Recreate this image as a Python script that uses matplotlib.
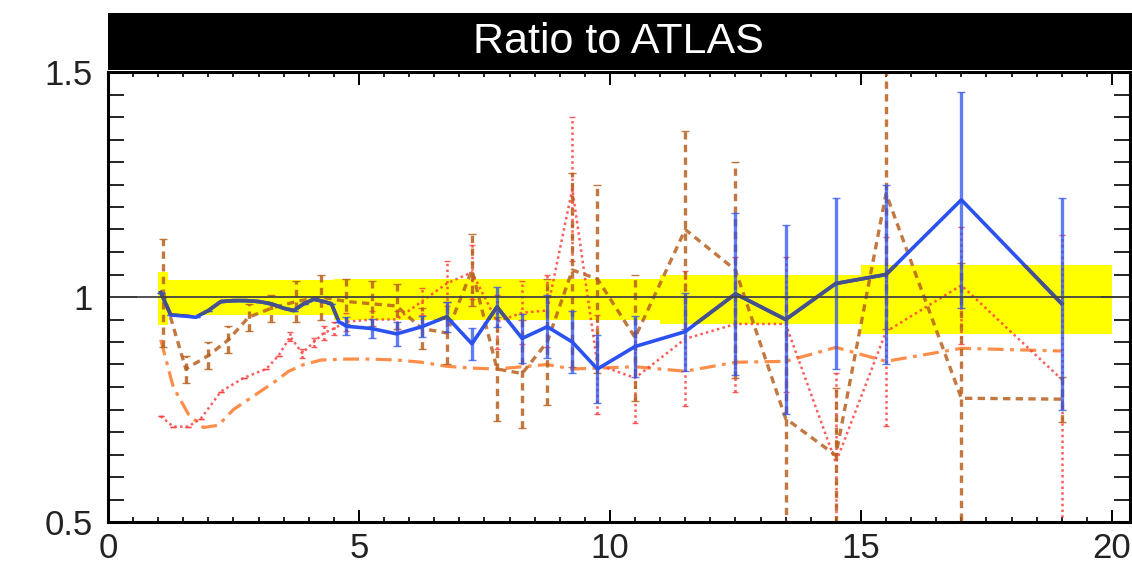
import matplotlib
matplotlib.use("Agg")
import matplotlib.pyplot as plt
from matplotlib.patches import Rectangle, Polygon
from matplotlib.ticker import MultipleLocator

plt.rcParams['font.family'] = ['Liberation Sans', 'DejaVu Sans']

# uncertainty band (step edges)
band_edges = [1.0, 1.2, 4.5, 11.0, 15.0, 20.0]
band_hi = [1.055, 1.038, 1.04, 1.048, 1.072]
band_lo = [0.938, 0.96, 0.948, 0.94, 0.918]

# blue (solid)
blue_x = [1.05, 1.25, 1.5, 1.75, 2.0, 2.25, 2.5, 2.75, 3.0, 3.25, 3.5, 3.7, 3.9, 4.1, 4.3, 4.45, 4.6,
          4.75, 5.25, 5.75, 6.25, 6.75, 7.25, 7.75, 8.25, 8.75, 9.25, 9.75, 10.5, 11.5, 12.5, 13.5,
          14.5, 15.5, 17.0, 19.0]
blue_y = [1.01, 0.96, 0.958, 0.955, 0.97, 0.99, 0.992, 0.992, 0.99, 0.985, 0.975, 0.97, 0.985, 0.995,
          0.99, 0.985, 0.945,
          0.935, 0.93, 0.918, 0.934, 0.956, 0.896, 0.978, 0.908, 0.934, 0.90, 0.84, 0.89, 0.923, 1.007,
          0.95, 1.03, 1.05, 1.216, 0.985]
blue_err = [0.0, 0.0, 0.0, 0.0, 0.0, 0.0, 0.0, 0.0, 0.0, 0.0, 0.0, 0.0, 0.0, 0.0, 0.0, 0.0, 0.0,
            0.02, 0.02, 0.027, 0.023, 0.033, 0.035, 0.045, 0.055, 0.07, 0.07, 0.076, 0.068, 0.087,
            0.18, 0.21, 0.19, 0.2, 0.24, 0.235]

# brown (dashed)
brown_x = [1.1, 1.55, 2.0, 2.4, 2.8, 3.25, 3.75, 4.25, 4.75, 5.25, 5.75, 6.25, 6.75, 7.25, 7.75,
           8.25, 8.75, 9.25, 9.75, 10.5, 11.5, 12.5, 13.5, 14.5, 15.5, 17.0, 19.0]
brown_y = [1.01, 0.84, 0.87, 0.905, 0.955, 0.975, 0.99, 1.0, 0.99, 0.985, 0.98, 0.93, 0.92, 1.06,
           0.84, 0.83, 0.90, 1.06, 1.04, 0.91, 1.15, 1.06, 0.73, 0.648, 1.23, 0.775, 0.773]
brown_err = [0.12, 0.03, 0.03, 0.03, 0.03, 0.03, 0.045, 0.05, 0.05, 0.05, 0.05, 0.045, 0.07, 0.08,
             0.115, 0.12, 0.14, 0.215, 0.21, 0.14, 0.22, 0.24, 0.27, 0.15, 0.3, 0.3, 0.05]

# red (dotted)
red_x = [1.05, 1.3, 1.6, 1.85, 2.25, 2.7, 3.15, 3.4, 3.63, 3.87, 4.1, 4.3, 4.5, 4.75, 5.25, 5.75,
         6.25, 6.75, 7.25, 7.75, 8.25, 8.75, 9.25, 9.75, 10.5, 11.5, 12.5, 13.5, 14.5, 15.5, 17.0, 19.0]
red_y = [0.735, 0.712, 0.712, 0.73, 0.79, 0.82, 0.84, 0.87, 0.912, 0.875, 0.9, 0.92, 0.93, 0.945,
         0.95, 0.95, 0.99, 1.03, 1.055, 0.945, 0.965, 0.97, 1.24, 0.85, 0.82, 0.907, 0.94, 0.94,
         0.632, 0.923, 1.026, 0.817]
red_err = [0.0, 0.0, 0.0, 0.0, 0.0, 0.0, 0.0, 0.0, 0.01, 0.01, 0.01, 0.015, 0.015, 0.02, 0.02, 0.02,
           0.03, 0.05, 0.06, 0.06, 0.07, 0.08, 0.16, 0.11, 0.1, 0.15, 0.15, 0.15, 0.2, 0.21, 0.13, 0.32]

# orange (dash-dot)
orange_x = [1.05, 1.3, 1.6, 1.9, 2.2, 2.5, 2.9, 3.3, 3.6, 3.9, 4.25, 4.75, 5.25, 5.75, 6.25, 6.75,
            7.25, 7.75, 8.25, 8.75, 9.25, 9.75, 10.5, 11.5, 12.5, 13.5, 14.5, 15.5, 17.0, 19.0]
orange_y = [0.905, 0.80, 0.74, 0.71, 0.715, 0.75, 0.78, 0.81, 0.835, 0.85, 0.86, 0.862, 0.862, 0.86,
            0.855, 0.846, 0.842, 0.84, 0.845, 0.85, 0.84, 0.842, 0.845, 0.835, 0.855, 0.857, 0.888,
            0.857, 0.886, 0.88]

title = "Ratio to ATLAS"

fig = plt.figure(figsize=(11.32, 5.74), dpi=100)
ax = fig.add_axes([108 / 1132, 1 - 522 / 574, 1022 / 1132, 450 / 574])
ax.set_xlim(0, 20.36)
ax.set_ylim(0.5, 1.5)

# yellow band
hi_steps = band_hi + [band_hi[-1]]
lo_steps = band_lo + [band_lo[-1]]
ax.fill_between(band_edges, lo_steps, hi_steps, step='post', color='#ffff00', lw=0, zorder=1)

# reference line at 1
ax.axhline(1.0, color='#444444', lw=1.3, zorder=6)

BLUE = '#2b52f0'
RED = '#ff4040'
BROWN = '#b8601e'
ORANGE = '#ff7a2a'

# orange dash-dot
ax.plot(orange_x, orange_y, color=ORANGE, lw=2.3, ls=(0, (5, 2, 1.2, 2)), alpha=0.85, zorder=3)

# red dotted
eb = ax.errorbar(red_x, red_y, yerr=red_err, fmt='none', ecolor=RED, elinewidth=1.8,
                 capsize=2, alpha=0.85, zorder=3)
eb[2][0].set_linestyle((0, (1, 1.3)))
ax.plot(red_x, red_y, color=RED, lw=1.8, ls=(0, (1, 1.3)), alpha=0.85, zorder=3)

# brown dashed
eb = ax.errorbar(brown_x, brown_y, yerr=brown_err, fmt='none', ecolor=BROWN, elinewidth=2.4,
                 capsize=3, alpha=0.85, zorder=4)
eb[2][0].set_linestyle((0, (2.2, 1.6)))
ax.plot(brown_x, brown_y, color=BROWN, lw=2.4, ls=(0, (2.2, 1.6)), alpha=0.85, zorder=4)

# blue solid
ax.errorbar(blue_x, blue_y, yerr=blue_err, fmt='none', ecolor=BLUE, elinewidth=2.4,
            capsize=3, alpha=0.75, zorder=5)
ax.plot(blue_x, blue_y, color=BLUE, lw=2.6, zorder=5)

# darker look of the blue line inside the band
verts = []
for i in range(len(band_hi)):
    verts += [(band_edges[i], band_hi[i]), (band_edges[i + 1], band_hi[i])]
for i in reversed(range(len(band_lo))):
    verts += [(band_edges[i + 1], band_lo[i]), (band_edges[i], band_lo[i])]
clip = Polygon(verts, closed=True, transform=ax.transData)
dark, = ax.plot(blue_x, blue_y, color='#46508a', lw=2.6, zorder=5.5)
dark.set_clip_path(clip)

# axes styling
for sp in ax.spines.values():
    sp.set_linewidth(2.2)
    sp.set_zorder(10)
ax.xaxis.set_major_locator(MultipleLocator(5))
ax.xaxis.set_minor_locator(MultipleLocator(0.5))
ax.yaxis.set_major_locator(MultipleLocator(0.5))
ax.yaxis.set_minor_locator(MultipleLocator(0.05))
ax.tick_params(axis='x', which='major', direction='in', length=9, width=1.4, top=True,
               labelsize=25, pad=7, labelcolor='#222222')
ax.tick_params(axis='x', which='minor', direction='in', length=3.6, width=1.2, top=True)
ax.tick_params(axis='y', which='major', direction='in', length=21, width=1.4, right=True,
               labelsize=25, pad=11, labelcolor='#222222')
ax.tick_params(axis='y', which='minor', direction='in', length=11.5, width=1.2, right=True)
ax.set_yticks([0.5, 1.0, 1.5])
ax.set_yticklabels(['0.5', '1', '1.5'])
ax.set_ylim(0.5, 1.5)
ax.set_xticks([0, 5, 10, 15, 20])
ax.set_xticklabels(['0', '5', '10', '15', '20'])

# black title bar
fig.add_artist(Rectangle((108 / 1132, 1 - 70 / 574), 1024 / 1132, 57 / 574,
                         transform=fig.transFigure, facecolor='black', edgecolor='none', zorder=20))
fig.text(618 / 1132, 1 - 42 / 574, title, color='white', fontsize=31, ha='center', va='center',
         zorder=21)

fig.savefig('out.png', dpi=100)
